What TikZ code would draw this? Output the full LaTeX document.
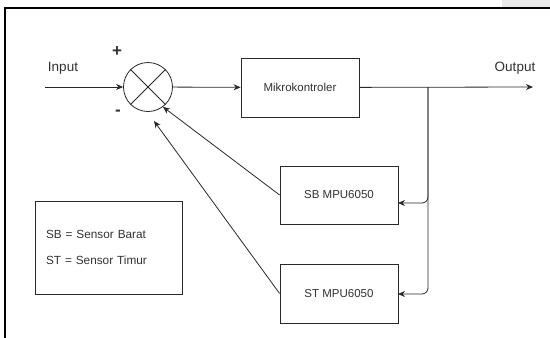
\documentclass[tikz,border=0pt]{standalone}
\usepackage{fontspec}
\setmainfont{Liberation Sans}
\usepackage{tikz}
\usetikzlibrary{arrows.meta}
\definecolor{lineGray}{RGB}{40,40,40}
\definecolor{textGray}{RGB}{50,50,50}
\definecolor{patchGray}{RGB}{232,232,232}

\begin{document}
\begin{tikzpicture}[x=1pt, y=-1pt,
            box/.style={draw=lineGray, rectangle, fill=white, text=textGray, text centered, line width=0.8pt, font=\fontsize{11.5}{13}\selectfont},
            label/.style={text=textGray, inner sep=0pt, font=\fontsize{13.5}{15}\selectfont},
            sign/.style={text=textGray, inner sep=0pt, font=\bfseries\fontsize{17}{18}\selectfont},
            arrow/.style={-{Stealth[length=7pt, width=6pt]}, line width=0.8pt, lineGray}
        ]
            \useasboundingbox (0,0) rectangle (550,338);
            \fill [patchGray] (502,0) rectangle (550,7);
            \draw [line width=1.3pt] (5,338) -- (5,8) -- (550,8);

            % summing junction
            \node (sum) [draw=lineGray, circle, line width=0.8pt, minimum size=49pt, inner sep=0pt] at (148,87) {};
            \draw [lineGray, line width=0.8pt] (sum.45) -- (sum.225);
            \draw [lineGray, line width=0.8pt] (sum.135) -- (sum.-45);

            \node (mcu) [box, minimum width=118pt, minimum height=59pt] at (300,87.5) {Mikrokontroler};
            \node (sb) [box, minimum width=118pt, minimum height=58pt] at (339,195) {SB MPU6050};
            \node (st) [box, minimum width=118pt, minimum height=59pt] at (339,293.5) {ST MPU6050};
            \node (legend) [box, minimum width=147pt, minimum height=93pt, align=left, text width=125pt, font=\fontsize{11.8}{26}\selectfont] at (108.5,247.5) {SB = Sensor Barat\\ST = Sensor Timur};

            \node (in) [label] at (63,68) {Input};
            \node (out) [label] at (515,68) {Output};
            \node (plus) [sign] at (117,52) {+};
            \node (minus) [sign] at (118,113) {-};

            \coordinate (src) at (45,87);
            \coordinate (dst) at (533,87);
            \coordinate (jn) at (428,87);
            \coordinate (sbin) at (398,203);
            \coordinate (stin) at (398,294);
            \coordinate (sttip) at (154,121);

            \draw [arrow] (src) -- (sum);
            \draw [arrow] (sum) -- (mcu);
            \draw [arrow] (mcu) -- (dst);
            \draw [arrow, rounded corners=6pt] (jn) |- (sbin);
            \draw [arrow, rounded corners=6pt] (jn) |- (stin);
            \draw [arrow] (sb.west) -- (sum.-53);
            \draw [arrow] (st.west) -- (sttip);
        \end{tikzpicture}
\end{document}
